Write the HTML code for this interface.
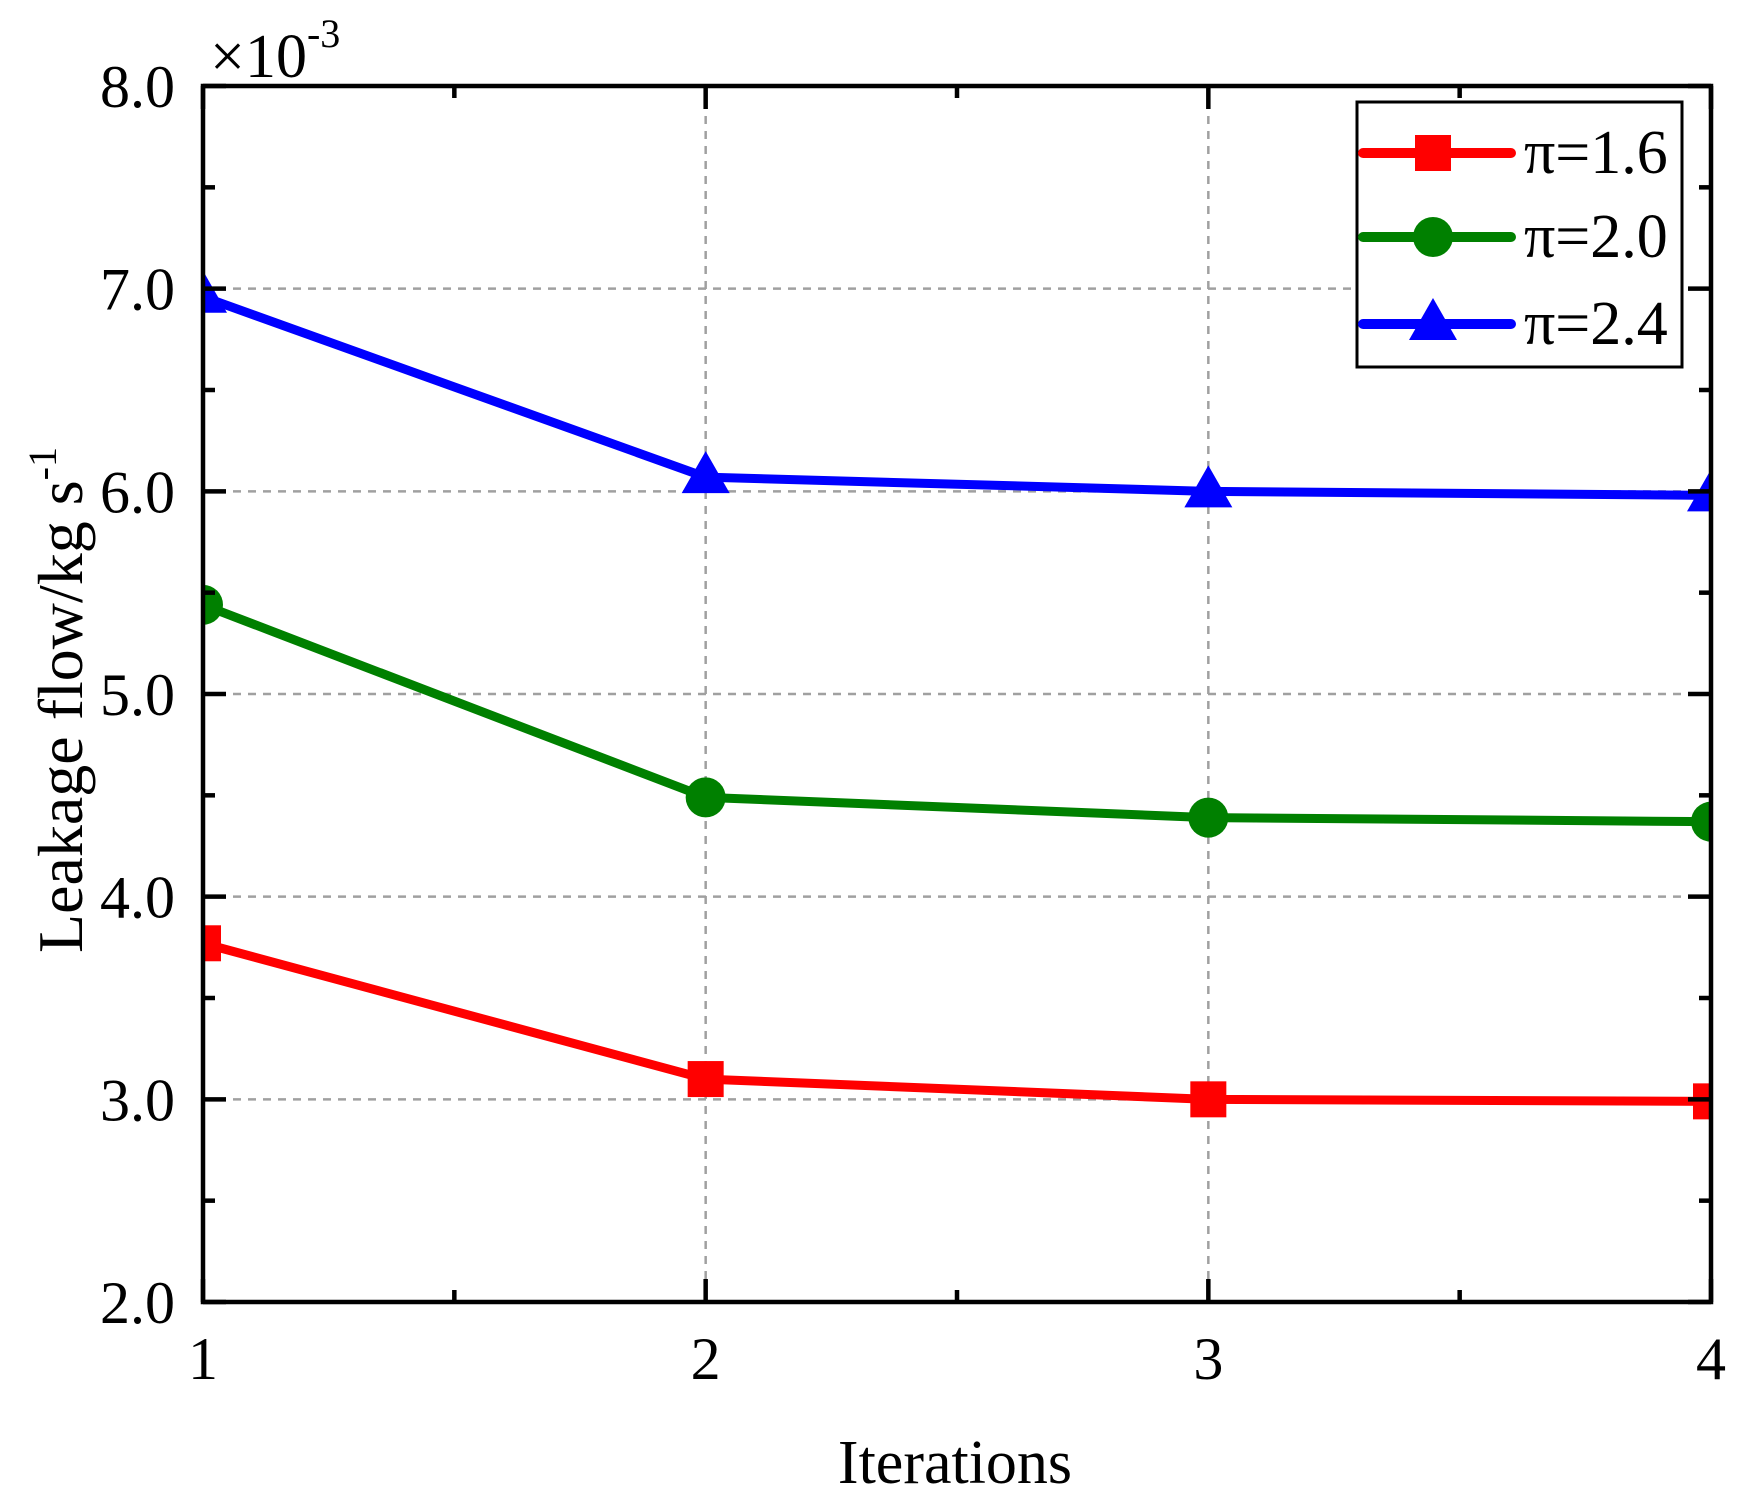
<!DOCTYPE html>
<html><head><meta charset="utf-8"><style>
html,body{margin:0;padding:0;background:#fff;}
svg{display:block;font-family:"Liberation Serif",serif;}
</style></head><body>
<svg id="chart" width="1744" height="1510" viewBox="0 0 1744 1510">
<defs><clipPath id="plotclip"><rect x="203" y="86" width="1508" height="1216"/></clipPath></defs>
<g id="grid"></g>
<g id="series" clip-path="url(#plotclip)"></g>
<rect x="203" y="86" width="1508" height="1216" fill="none" stroke="#000" stroke-width="4.5"/>
<g id="ticks"></g>
<text x="210" y="77" font-size="62">×10<tspan dy="-30" font-size="40">-3</tspan></text>
<text transform="translate(82,700) rotate(-90)" text-anchor="middle" font-size="64">Leakage flow/kg s<tspan dy="-26" font-size="40">-1</tspan></text>
<text x="955" y="1483" text-anchor="middle" font-size="62">Iterations</text>
<g id="legend">
<rect x="1357" y="102" width="325" height="265" fill="#fff" stroke="#000" stroke-width="3"/>
</g>
</svg>
<script>
const categories = [1, 2, 3, 4];
const seriesNames = ["π=1.6", "π=2.0", "π=2.4"];
const series16 = [3.77, 3.10, 3.00, 2.99];
const series20 = [5.44, 4.49, 4.39, 4.37];
const series24 = [6.96, 6.07, 6.00, 5.98];
const yTickLabels = ["2.0","3.0","4.0","5.0","6.0","7.0","8.0"];
const xTickLabels = ["1","2","3","4"];

const NS = "http://www.w3.org/2000/svg";
const L = 203, R = 1711, T = 86, B = 1302;
const xMin = 1, xMax = 4, yMin = 2, yMax = 8;
function xs(v){ return L + (v - xMin) / (xMax - xMin) * (R - L); }
function ys(v){ return B - (v - yMin) / (yMax - yMin) * (B - T); }
function mk(tag, attrs, parent){ const e = document.createElementNS(NS, tag); for (const k in attrs) e.setAttribute(k, attrs[k]); parent.appendChild(e); return e; }

const grid = document.getElementById('grid');
const ticks = document.getElementById('ticks');
const seriesG = document.getElementById('series');
const legend = document.getElementById('legend');

yTickLabels.forEach(function(lbl){
  const v = parseFloat(lbl), y = ys(v);
  if (v > yMin && v < yMax) {
    const g = mk('line', {x1:L, x2:R, y1:y, y2:y, stroke:'#a0a0a0', 'stroke-width':2.5, 'stroke-dasharray':'8 7'}, grid);
    
    
  }
  mk('line', {x1:L, x2:L+23, y1:y, y2:y, stroke:'#000', 'stroke-width':4.5}, ticks);
  mk('line', {x1:R, x2:R-23, y1:y, y2:y, stroke:'#000', 'stroke-width':4.5}, ticks);
  const t = mk('text', {x:175, y:y+21, 'text-anchor':'end', 'font-size':60}, ticks);
  t.textContent = lbl;
  
  
  if (v < yMax) {
    const ym = ys(v + 0.5);
    mk('line', {x1:L, x2:L+12, y1:ym, y2:ym, stroke:'#000', 'stroke-width':4.5}, ticks);
    mk('line', {x1:R, x2:R-12, y1:ym, y2:ym, stroke:'#000', 'stroke-width':4.5}, ticks);
  }
});
xTickLabels.forEach(function(lbl){
  const v = parseFloat(lbl), x = xs(v);
  if (v > xMin && v < xMax) {
    const g = mk('line', {x1:x, x2:x, y1:T, y2:B, stroke:'#a0a0a0', 'stroke-width':2.5, 'stroke-dasharray':'8 7'}, grid);
    
    
  }
  mk('line', {x1:x, x2:x, y1:B, y2:B-23, stroke:'#000', 'stroke-width':4.5}, ticks);
  mk('line', {x1:x, x2:x, y1:T, y2:T+23, stroke:'#000', 'stroke-width':4.5}, ticks);
  const t = mk('text', {x:x, y:1379, 'text-anchor':'middle', 'font-size':60}, ticks);
  t.textContent = lbl;
  
  
  if (v < xMax) {
    const xm = xs(v + 0.5);
    mk('line', {x1:xm, x2:xm, y1:B, y2:B-12, stroke:'#000', 'stroke-width':4.5}, ticks);
    mk('line', {x1:xm, x2:xm, y1:T, y2:T+12, stroke:'#000', 'stroke-width':4.5}, ticks);
  }
});

function marker(kind, cx, cy, color, parent){
  let m;
  if (kind === 'square') m = mk('rect', {x:cx-18, y:cy-18, width:36, height:36, fill:color}, parent);
  else if (kind === 'circle') m = mk('circle', {cx:cx, cy:cy, r:20, fill:color}, parent);
  else m = mk('polygon', {points:(cx)+','+(cy-26)+' '+(cx-24)+','+(cy+16)+' '+(cx+24)+','+(cy+16), fill:color}, parent);
  return m;
}

const defs = [
  {vals: series16, color:'#ff0000', kind:'square', name:'pi-1-6'},
  {vals: series20, color:'#008000', kind:'circle', name:'pi-2-0'},
  {vals: series24, color:'#0000ff', kind:'triangle', name:'pi-2-4'}
];
defs.forEach(function(d, i){
  const pts = categories.map(function(c, j){ return xs(c) + ',' + ys(d.vals[j]); }).join(' ');
  const line = mk('polyline', {points:pts, fill:'none', stroke:d.color, 'stroke-width':9, 'stroke-linejoin':'round'}, seriesG);
  
  
  categories.forEach(function(c, j){
    const m = marker(d.kind, xs(c), ys(d.vals[j]), d.color, seriesG);
    
    
  });
  const ly = [153, 237, 324][i];
  const ll = mk('line', {x1:1363, x2:1511, y1:ly, y2:ly, stroke:d.color, 'stroke-width':10, 'stroke-linecap':'round'}, legend);
  
  
  const lm = marker(d.kind, 1433, ly, d.color, legend);
  
  
  const lt = mk('text', {x:1524, y:ly+20, 'font-size':62}, legend);
  lt.textContent = seriesNames[i];
  
  
});
</script>
</body></html>
